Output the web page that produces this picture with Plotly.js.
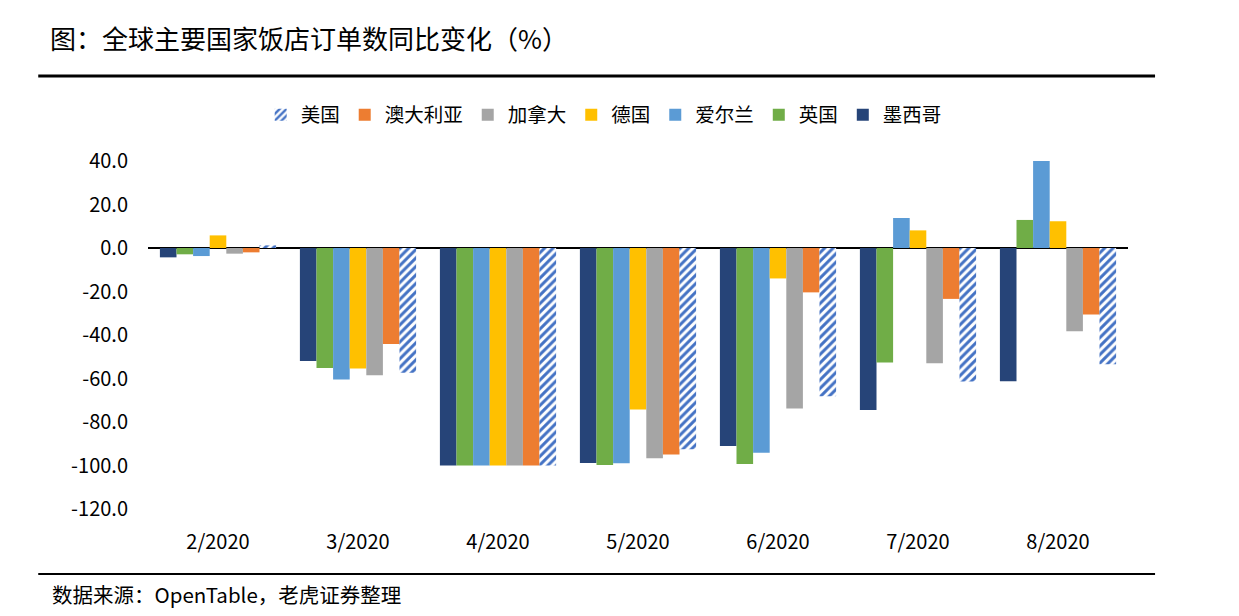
<!DOCTYPE html>
<html>
<head>
<meta charset="utf-8">
<script src="https://cdn.plot.ly/plotly-3.0.1.min.js"></script>
<style>html,body{margin:0;padding:0;background:#fff;}#chart{width:1239px;height:616px;}</style>
</head>
<body>
<div id="chart"></div>
<script>
const months = ["2/2020","3/2020","4/2020","5/2020","6/2020","7/2020","8/2020"];
const mexico    = [-4.3, -51.9, -100, -98.9, -91.0, -74.5, -61.3];
const uk        = [-2.9, -55.2, -100, -99.8, -99.3, -52.6, 12.9];
const ireland   = [-3.7, -60.5, -100, -99.0, -94.1, 13.8, 40.3];
const germany   = [5.8, -55.4, -100, -74.2, -14.0, 8.1, 12.3];
const canada    = [-2.6, -58.5, -100, -96.7, -73.8, -53.0, -38.3];
const australia = [-2.0, -44.1, -100, -94.9, -20.4, -23.4, -30.6];
const usa       = [1.2, -57.3, -100, -92.5, -68.2, -61.4, -53.5];
const yTicks = [40, 20, 0, -20, -40, -60, -80, -100, -120];

const font = "'Noto Sans CJK SC', 'Noto Sans', sans-serif";
function bar(name, y, color) {
  return {type: 'bar', name: name, x: months, y: y,
    marker: {color: color, line: {width: 0}}, hoverinfo: 'y+name'};
}
const traces = [
  bar('墨西哥', mexico, '#264478'),
  bar('英国', uk, '#70AD47'),
  bar('爱尔兰', ireland, '#5B9BD5'),
  bar('德国', germany, '#FFC000'),
  bar('加拿大', canada, '#A5A5A5'),
  bar('澳大利亚', australia, '#ED7D31'),
  {type: 'bar', name: '美国', x: months, y: usa,
    marker: {color: '#ffffff', line: {width: 0},
      pattern: {shape: '/', fgcolor: '#4472C4', bgcolor: '#ffffff', size: 6, solidity: 0.5}}}
];

const layout = {
  width: 1239, height: 616,
  margin: {l: 148, r: 111, t: 161, b: 107},
  paper_bgcolor: '#fff', plot_bgcolor: '#fff',
  font: {family: font, color: '#000', size: 18},
  title: {text: '图：全球主要国家饭店订单数同比变化（%）', font: {family: font, size: 26, color: '#000'},
    x: 50/1239, xanchor: 'left', xref: 'container', y: 1 - 40/616, yanchor: 'middle', yref: 'container'},
  barmode: 'group', bargap: 0.17, bargroupgap: 0,
  showlegend: true,
  legend: {orientation: 'h', traceorder: 'reversed', x: 0.465, xanchor: 'center', y: 1.132, yanchor: 'middle',
    font: {family: font, size: 19.5, color: '#000'}, itemwidth: 30, bgcolor: 'rgba(0,0,0,0)'},
  xaxis: {type: 'category', range: [-0.5, 6.5], showline: false, showgrid: false, zeroline: false,
    ticks: '', ticklabelstandoff: 19, tickfont: {family: font, size: 20, color: '#000'}, fixedrange: true},
  yaxis: {range: [-120, 40], tickvals: yTicks, ticktext: yTicks.map(v => v.toFixed(1)),
    showline: false, showgrid: false, zeroline: true, zerolinecolor: '#000', zerolinewidth: 2,
    ticks: '', ticklabelstandoff: 19, tickfont: {family: font, size: 20, color: '#000'}, fixedrange: true},
  shapes: [
    {type: 'line', xref: 'paper', yref: 'paper', x0: -0.112, x1: 1.0276, y0: 1.244, y1: 1.244, line: {color: '#000', width: 3}},
    {type: 'line', xref: 'paper', yref: 'paper', x0: -0.112, x1: 1.0276, y0: -0.187, y1: -0.187, line: {color: '#000', width: 2}}
  ],
  annotations: [
    {text: '数据来源：OpenTable，老虎证券整理', xref: 'paper', yref: 'paper', x: -0.1, y: -0.244,
      xanchor: 'left', yanchor: 'middle', showarrow: false, font: {family: font, size: 20.5, color: '#000'}}
  ]
};
Plotly.newPlot('chart', traces, layout, {displayModeBar: false, staticPlot: true});
</script>
</body>
</html>
